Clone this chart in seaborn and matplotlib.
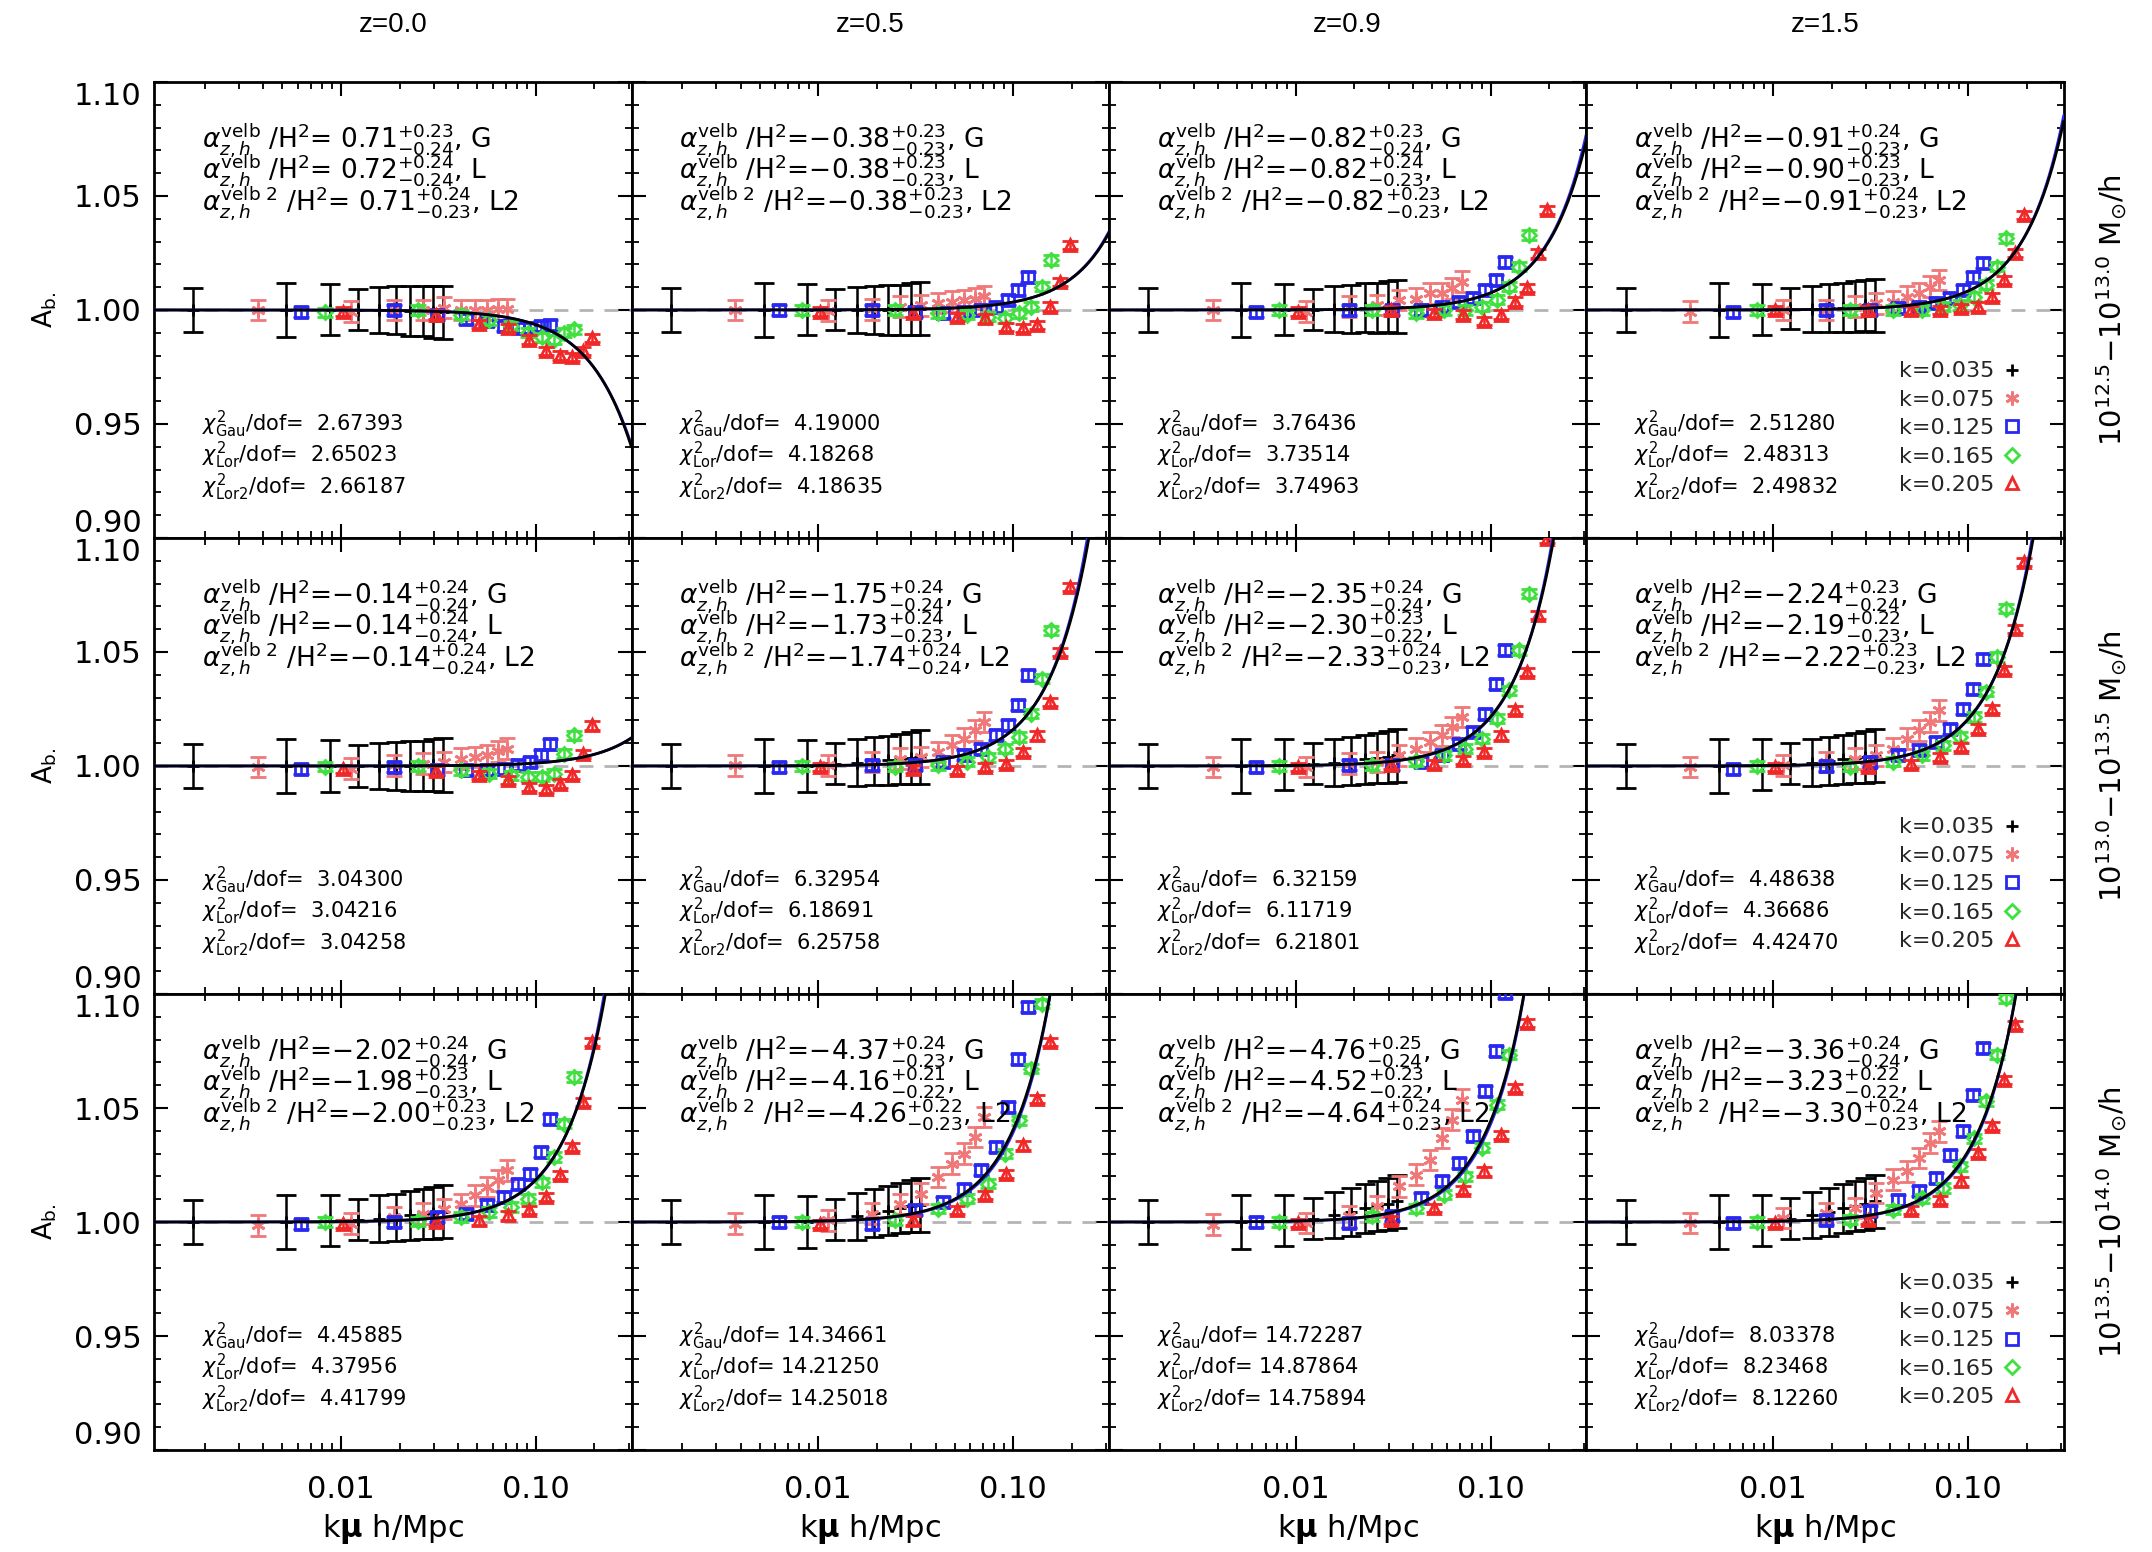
import numpy as np
import matplotlib
matplotlib.use('Agg')
import matplotlib.pyplot as plt
import seaborn as sns
from matplotlib.lines import Line2D
from matplotlib.ticker import LogLocator, NullFormatter, MultipleLocator, FixedLocator, FixedFormatter

# ---------------- data ----------------
z_labels = ['z=0.0', 'z=0.5', 'z=0.9', 'z=1.5']
mass_labels = [r'$10^{12.5}$$-$$10^{13.0}$ M$_{\odot}$/h',
               r'$10^{13.0}$$-$$10^{13.5}$ M$_{\odot}$/h',
               r'$10^{13.5}$$-$$10^{14.0}$ M$_{\odot}$/h']
mu_bins = [0.05, 0.15, 0.25, 0.35, 0.45, 0.55, 0.65, 0.75, 0.85, 0.95]
k_values = [0.035, 0.075, 0.125, 0.165, 0.205]
k_labels = ['k=0.035', 'k=0.075', 'k=0.125', 'k=0.165', 'k=0.205']

alpha_G = [[0.71, -0.38, -0.82, -0.91], [-0.14, -1.75, -2.35, -2.24], [-2.02, -4.37, -4.76, -3.36]]
alpha_L = [[0.72, -0.38, -0.82, -0.90], [-0.14, -1.73, -2.30, -2.19], [-1.98, -4.16, -4.52, -3.23]]
alpha_L2 = [[0.71, -0.38, -0.82, -0.91], [-0.14, -1.74, -2.33, -2.22], [-2.00, -4.26, -4.64, -3.30]]
alpha_G_up = [[0.23, 0.23, 0.23, 0.24], [0.24, 0.24, 0.24, 0.23], [0.24, 0.24, 0.25, 0.24]]
alpha_G_dn = [[0.24, 0.23, 0.24, 0.23], [0.24, 0.24, 0.24, 0.24], [0.24, 0.23, 0.24, 0.24]]
alpha_L_up = [[0.24, 0.23, 0.24, 0.23], [0.24, 0.24, 0.23, 0.22], [0.23, 0.21, 0.23, 0.22]]
alpha_L_dn = [[0.24, 0.23, 0.23, 0.23], [0.24, 0.23, 0.22, 0.23], [0.23, 0.22, 0.22, 0.22]]
alpha_L2_up = [[0.24, 0.23, 0.23, 0.24], [0.24, 0.24, 0.24, 0.23], [0.23, 0.22, 0.24, 0.24]]
alpha_L2_dn = [[0.23, 0.23, 0.23, 0.23], [0.24, 0.24, 0.23, 0.23], [0.23, 0.23, 0.23, 0.23]]

chi2_gau = [['2.67393', '4.19000', '3.76436', '2.51280'],
            ['3.04300', '6.32954', '6.32159', '4.48638'],
            ['4.45885', '14.34661', '14.72287', '8.03378']]
chi2_lor = [['2.65023', '4.18268', '3.73514', '2.48313'],
            ['3.04216', '6.18691', '6.11719', '4.36686'],
            ['4.37956', '14.21250', '14.87864', '8.23468']]
chi2_lor2 = [['2.66187', '4.18635', '3.74963', '2.49832'],
             ['3.04258', '6.25758', '6.21801', '4.42470'],
             ['4.41799', '14.25018', '14.75894', '8.12260']]

# measured A_b values, [row][col][mu bin]
A_k035 = [
    [[1.0, 1.0, 1.0, 1.0, 1.0, 1.0, 0.9995, 0.9995, 0.999, 0.999],
     [1.0, 1.0, 1.0, 1.0, 1.0, 1.0, 1.0, 1.0, 1.0005, 1.0005],
     [1.0, 1.0, 1.0, 1.0, 1.0005, 1.0005, 1.001, 1.001, 1.0015, 1.0015],
     [1.0, 1.0, 1.0, 1.0005, 1.0005, 1.001, 1.001, 1.0015, 1.002, 1.002]],
    [[1.0, 1.0, 1.0, 1.0, 1.0, 1.0, 1.0, 1.0, 1.0005, 1.0005],
     [1.0, 1.0, 1.0, 1.001, 1.0015, 1.002, 1.0025, 1.003, 1.0035, 1.004],
     [1.0, 1.0, 1.0005, 1.001, 1.0015, 1.002, 1.003, 1.0035, 1.004, 1.0047],
     [1.0, 1.0, 1.0005, 1.001, 1.0015, 1.002, 1.003, 1.0035, 1.004, 1.0045]],
    [[1.0, 1.0, 1.0005, 1.001, 1.0015, 1.002, 1.003, 1.0035, 1.004, 1.0045],
     [1.0, 1.0, 1.0, 1.001, 1.0025, 1.004, 1.005, 1.006, 1.007, 1.0075],
     [1.0, 1.0, 1.0005, 1.0015, 1.003, 1.0045, 1.006, 1.007, 1.008, 1.009],
     [1.0, 1.0, 1.0005, 1.0015, 1.003, 1.0045, 1.006, 1.007, 1.008, 1.009]]]
A_k075 = [
    [[1.0, 0.9993, 1.0, 1.0, 1.001, 1.0, 1.0, 1.0, 1.0003, 1.0003],
     [1.0, 0.9997, 1.0003, 1.0015, 1.002, 1.003, 1.0037, 1.0044, 1.005, 1.006],
     [1.0, 0.9993, 1.0015, 1.0022, 1.0044, 1.005, 1.0073, 1.0073, 1.0095, 1.0124],
     [0.9993, 1.0, 1.0, 1.0015, 1.0029, 1.0037, 1.0058, 1.0073, 1.0102, 1.0132]],
    [[0.9996, 0.9988, 1.0003, 1.001, 1.0018, 1.0032, 1.004, 1.0047, 1.0064, 1.0076],
     [1.0003, 1.0003, 1.0018, 1.0032, 1.004, 1.0061, 1.0091, 1.012, 1.0156, 1.0193],
     [0.9996, 0.9996, 1.001, 1.0018, 1.0047, 1.0076, 1.0105, 1.0134, 1.0171, 1.0215],
     [0.9996, 1.0003, 1.0018, 1.0032, 1.0047, 1.0076, 1.012, 1.0156, 1.0193, 1.0244]],
    [[0.9985, 0.9993, 1.0022, 1.0037, 1.0058, 1.008, 1.0117, 1.0154, 1.0183, 1.0227],
     [0.9993, 1.0007, 1.0037, 1.008, 1.0124, 1.0197, 1.0256, 1.03, 1.0373, 1.046],
     [0.9988, 0.9996, 1.0025, 1.0069, 1.0156, 1.0208, 1.0273, 1.0368, 1.0449, 1.0537],
     [0.9996, 1.0018, 1.004, 1.0061, 1.0127, 1.0186, 1.0222, 1.0281, 1.0347, 1.0398]]]
A_k125 = [
    [[0.9993, 1.0, 0.998, 0.996, 0.995, 0.993, 0.992, 0.992, 0.993, 0.9935],
     [1.0, 1.0, 0.9993, 0.9985, 0.9993, 1.0, 1.0015, 1.0044, 1.0088, 1.0146],
     [0.9993, 1.0, 1.0, 1.0, 1.0015, 1.0037, 1.0051, 1.0088, 1.0132, 1.0212],
     [0.9993, 1.0, 1.0, 1.0007, 1.0015, 1.0029, 1.0051, 1.0088, 1.0146, 1.0205]],
    [[0.9988, 0.9996, 0.9981, 0.9981, 0.9981, 0.9988, 1.0003, 1.0018, 1.0047, 1.0098],
     [0.9996, 1.0003, 1.0003, 1.0018, 1.0047, 1.0076, 1.0134, 1.0178, 1.0266, 1.0398],
     [0.9996, 1.0003, 1.0006, 1.0018, 1.0047, 1.0098, 1.0149, 1.023, 1.0361, 1.0507],
     [0.9988, 1.0, 1.0018, 1.0047, 1.0069, 1.0105, 1.0164, 1.0251, 1.0339, 1.0471]],
    [[0.9993, 1.0, 1.0022, 1.0037, 1.0073, 1.011, 1.0168, 1.0212, 1.0307, 1.0453],
     [1.0, 0.9993, 1.0051, 1.0088, 1.0146, 1.0227, 1.0329, 1.0504, 1.0716, 1.0943],
     [1.0, 0.9996, 1.0025, 1.0105, 1.0178, 1.0259, 1.0376, 1.0573, 1.0749, 1.1004],
     [0.9996, 1.001, 1.0047, 1.0098, 1.0134, 1.0193, 1.0295, 1.0398, 1.0558, 1.0763]]]
A_k165 = [
    [[0.999, 1.0, 0.998, 0.9956, 0.993, 0.990, 0.988, 0.987, 0.990, 0.9915],
     [1.0, 1.0, 0.9985, 0.998, 0.997, 0.9963, 0.9985, 1.0015, 1.0102, 1.0219],
     [1.0, 1.0, 0.9985, 1.0, 1.0, 1.0015, 1.0044, 1.0102, 1.019, 1.0329],
     [1.0, 1.0, 1.0, 1.0, 1.0015, 1.0022, 1.0058, 1.011, 1.019, 1.0314]],
    [[0.9996, 1.0, 0.9981, 0.9966, 0.9959, 0.9952, 0.9952, 0.9966, 1.0054, 1.0134],
     [1.0, 0.9996, 1.0003, 1.0018, 1.0039, 1.0076, 1.0127, 1.0229, 1.0383, 1.0595],
     [1.0, 1.0003, 1.002, 1.0047, 1.0076, 1.012, 1.0208, 1.0332, 1.0507, 1.0756],
     [1.0, 0.9996, 1.0018, 1.0047, 1.009, 1.0127, 1.0215, 1.0325, 1.0478, 1.069]],
    [[1.0, 1.0004, 1.0022, 1.0044, 1.0066, 1.0102, 1.0175, 1.0285, 1.0431, 1.0636],
     [1.0, 1.0007, 1.0058, 1.0102, 1.0168, 1.03, 1.0446, 1.0673, 1.0958, 1.13],
     [1.0, 1.0025, 1.0061, 1.012, 1.02, 1.0325, 1.0515, 1.0734, 1.105, 1.14],
     [1.0, 1.001, 1.0054, 1.0105, 1.0149, 1.0244, 1.0368, 1.0529, 1.0734, 1.0982]]]
A_k205 = [
    [[0.9993, 0.998, 0.994, 0.992, 0.987, 0.982, 0.980, 0.9795, 0.982, 0.9876],
     [0.9993, 0.9985, 0.997, 0.9963, 0.9927, 0.992, 0.9934, 1.0015, 1.0124, 1.0285],
     [0.9993, 1.0, 0.9985, 0.998, 0.995, 0.998, 1.0037, 1.0095, 1.0248, 1.0438],
     [1.0, 1.0, 1.0, 1.0, 1.0007, 1.0015, 1.0058, 1.0132, 1.0249, 1.0417]],
    [[0.9988, 0.998, 0.9959, 0.9937, 0.9908, 0.99, 0.9923, 0.9959, 1.0054, 1.0178],
     [0.9996, 0.9988, 0.9981, 0.9996, 1.001, 1.0061, 1.0134, 1.0281, 1.05, 1.0785],
     [0.9996, 1.0003, 1.001, 1.0025, 1.0061, 1.0134, 1.0244, 1.0412, 1.0661, 1.0995],
     [0.9996, 0.9996, 1.001, 1.0039, 1.0083, 1.0164, 1.0251, 1.042, 1.0602, 1.0895]],
    [[0.9993, 1.0, 1.0007, 1.0029, 1.0051, 1.011, 1.0205, 1.0329, 1.0526, 1.079],
     [0.9993, 1.0007, 1.0051, 1.0117, 1.0212, 1.0336, 1.0541, 1.079, 1.115, 1.16],
     [0.9996, 1.001, 1.0061, 1.0142, 1.0222, 1.0383, 1.0588, 1.0873, 1.12, 1.16],
     [0.9996, 1.001, 1.0054, 1.0098, 1.0178, 1.0303, 1.042, 1.0624, 1.0865, 1.115]]]

# error bars per k series, per mu bin
err_k035 = [0.0098, 0.0117, 0.0112, 0.0090, 0.0102, 0.0105, 0.0108, 0.0110, 0.0113, 0.0117]
err_k075 = [0.0045, 0.0045, 0.0045, 0.0045, 0.0045, 0.0045, 0.0045, 0.0045, 0.0045, 0.0045]
err_k125 = [0.0022, 0.0022, 0.0022, 0.0022, 0.0022, 0.0022, 0.0022, 0.0022, 0.0022, 0.0022]
err_k165 = [0.0020, 0.0020, 0.0020, 0.0020, 0.0020, 0.0020, 0.0020, 0.0020, 0.0020, 0.0020]
err_k205 = [0.0018, 0.0018, 0.0018, 0.0018, 0.0018, 0.0018, 0.0018, 0.0018, 0.0018, 0.0018]

model_scale = 0.91   # (k mu)^2 coefficient scale of the fitted damping models
x_range = (0.0011, 0.31)

# ---------------- style ----------------
sns.set_theme(style='ticks')
plt.rcParams['font.family'] = ['DejaVu Sans']
plt.rcParams['mathtext.fontset'] = 'dejavusans'
plt.rcParams['axes.linewidth'] = 2.0

series_data = [A_k035, A_k075, A_k125, A_k165, A_k205]
series_err = [err_k035, err_k075, err_k125, err_k165, err_k205]
colors = ['black', '#f07878', '#2828f0', '#40e040', '#f02828']
markers = ['+', (6, 2, 0), 's', 'D', '^']
msizes = [8, 10, 8, 7, 8]
capsizes = [7, 6, 6, 6, 6]

fig, axes = plt.subplots(3, 4, figsize=(21.52, 15.52), dpi=100, sharex=True, sharey=True)
fig.subplots_adjust(left=0.0716, right=0.959, top=0.9472, bottom=0.0657, wspace=0, hspace=0)

xs = np.geomspace(x_range[0], x_range[1], 500)

def fmt_val(v):
    s = f'{abs(v):.2f}'
    return ('\u2212' + s) if v < 0 else (' ' + s)

for r in range(3):
    for c in range(4):
        ax = axes[r, c]
        ax.set_xscale('log')
        ax.axhline(1.0, color='#b4b4b4', lw=2, ls=(0, (5, 4)), zorder=1)
        for s in range(5):
            x = [k_values[s] * m for m in mu_bins]
            ax.errorbar(x, series_data[s][r][c], yerr=series_err[s], fmt='none',
                        ecolor=colors[s], elinewidth=1.8, capsize=capsizes[s], capthick=2.0, zorder=3)
            ax.plot(x, series_data[s][r][c], ls='none', marker=markers[s], ms=msizes[s],
                    mfc='none', mec=colors[s], mew=2.0, zorder=3)
        gauss = np.exp(-alpha_G[r][c] * model_scale * xs ** 2)
        lor = 1.0 / (1.0 + alpha_L[r][c] * model_scale * xs ** 2)
        sns.lineplot(x=xs, y=lor, ax=ax, color='#2828f0', lw=2.0, estimator=None, sort=False, zorder=4)
        sns.lineplot(x=xs, y=gauss, ax=ax, color='black', lw=2.0, estimator=None, sort=False, zorder=5)

        ax.set_xlim(*x_range)
        ax.set_ylim(0.90, 1.10)
        ax.yaxis.set_major_locator(FixedLocator([0.90, 0.95, 1.00, 1.05, 1.10]))
        ax.yaxis.set_major_formatter(FixedFormatter(['0.90', '0.95', '1.00', '1.05', '1.10']))
        ax.yaxis.set_minor_locator(MultipleLocator(0.01))
        ax.xaxis.set_major_locator(FixedLocator([0.01, 0.1]))
        ax.xaxis.set_major_formatter(FixedFormatter(['0.01', '0.10']))
        ax.xaxis.set_minor_locator(LogLocator(base=10, subs=np.arange(2, 10)))
        ax.xaxis.set_minor_formatter(NullFormatter())
        ax.tick_params(which='both', direction='in', top=True, right=True, colors='black')
        ax.tick_params(which='major', length=10, width=1.5, labelsize=22)
        ax.tick_params(which='minor', length=5, width=1.3)
        ax.tick_params(axis='x', pad=18)
        ax.tick_params(axis='y', pad=9)
        ax.tick_params(labelleft=(c == 0), labelbottom=(r == 2))
        ax.set_xlabel('')
        ax.set_ylabel('')
        for sp in ax.spines.values():
            sp.set_linewidth(2.0)
            sp.set_color('black')

        # fitted parameter text
        lines = [
            (r'$\alpha^{\rm velb}_{z,h}$ /H$^2$=' + fmt_val(alpha_G[r][c]) +
             r'$^{+%.2f}_{-%.2f}$, G' % (alpha_G_up[r][c], alpha_G_dn[r][c])),
            (r'$\alpha^{\rm velb}_{z,h}$ /H$^2$=' + fmt_val(alpha_L[r][c]) +
             r'$^{+%.2f}_{-%.2f}$, L' % (alpha_L_up[r][c], alpha_L_dn[r][c])),
            (r'$\alpha^{\rm velb\ 2}_{z,h}$ /H$^2$=' + fmt_val(alpha_L2[r][c]) +
             r'$^{+%.2f}_{-%.2f}$, L2' % (alpha_L2_up[r][c], alpha_L2_dn[r][c])),
        ]
        for i, t in enumerate(lines):
            ax.text(0.10, 0.857 - 0.0695 * i, t, transform=ax.transAxes, fontsize=19,
                    ha='left', va='baseline', color='black')
        chis = [(r'$\chi^2_{\rm Gau}$/dof=', chi2_gau[r][c]),
                (r'$\chi^2_{\rm Lor}$/dof=', chi2_lor[r][c]),
                (r'$\chi^2_{\rm Lor2}$/dof=', chi2_lor2[r][c])]
        for i, (lab, val) in enumerate(chis):
            ax.text(0.10, 0.2346 - 0.0693 * i, lab + val.rjust(9), transform=ax.transAxes,
                    fontsize=15, ha='left', va='baseline', color='black')

        if c == 3:
            handles = [Line2D([], [], ls='none', marker=markers[s], ms=msizes[s], mfc='none',
                              mec=colors[s], mew=2.0) for s in range(5)]
            ax.legend(handles, k_labels, loc='lower right', bbox_to_anchor=(0.906, 0.094),
                      markerfirst=False, frameon=False, fontsize=16, handlelength=0.6,
                      handletextpad=0.5, labelspacing=0.38, borderpad=0, borderaxespad=0)
            ax.text(1.10, 0.5, mass_labels[r], transform=ax.transAxes, rotation=90,
                    ha='center', va='center', fontsize=21, color='black')
        if r == 0:
            ax.text(0.5, 1.125, z_labels[c], transform=ax.transAxes, ha='center', va='center',
                    fontsize=20, color='black', family=['Liberation Sans', 'DejaVu Sans'])
        if r == 2:
            ax.set_xlabel(r'k$\mathbf{\mu}$ h/Mpc', fontsize=22, color='black')
            ax.xaxis.set_label_coords(0.5, -0.135)
        if c == 0:
            ax.set_ylabel(r'A$_{\rm b.}$', fontsize=19, color='black')
            ax.yaxis.set_label_coords(-0.20, 0.5)

# keep the shared-edge tick labels (0.90 / 1.10) inside their own panel, as in the original
fig.canvas.draw()
for r in range(3):
    ax = axes[r, 0]
    for tick in ax.yaxis.get_major_ticks():
        loc = tick.get_loc()
        if abs(loc - 1.10) < 1e-6:
            tick.label1.set_va('top')
        elif abs(loc - 0.90) < 1e-6:
            tick.label1.set_va('bottom')

fig.savefig('out.png', dpi=100)
